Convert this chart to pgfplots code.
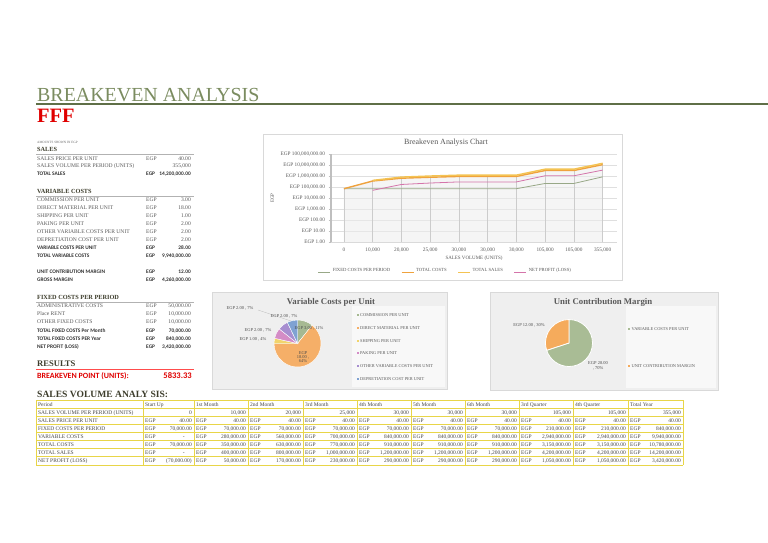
\documentclass[border=0pt]{standalone}
\usepackage{pgfplots}
\pgfplotsset{compat=1.18}
\usepackage{fontspec}
\setmainfont{Liberation Serif}
\newfontfamily\carl{Carlito}

\definecolor{titlegreen}{HTML}{7B8C60}
\definecolor{rulegreen}{HTML}{5F6F47}
\definecolor{headdark}{HTML}{3D3D2C}
\definecolor{txtgray}{HTML}{595959}
\definecolor{litegray}{HTML}{7F7F7F}
\definecolor{ffred}{HTML}{E00000}
\definecolor{tabyellow}{HTML}{E8D548}
\definecolor{cFixed}{HTML}{98A887}
\definecolor{cCost}{HTML}{EFA23D}
\definecolor{cSales}{HTML}{F4C352}
\definecolor{cProfit}{HTML}{D474AA}
\definecolor{pie1}{HTML}{A6B992}
\definecolor{pie2}{HTML}{F5AF68}
\definecolor{pie3}{HTML}{F1D46C}
\definecolor{pie4}{HTML}{D48CC6}
\definecolor{pie5}{HTML}{A78ED0}
\definecolor{pie6}{HTML}{7FA2D2}
\definecolor{qie1}{HTML}{A9BC95}
\definecolor{qie2}{HTML}{F5AB5C}
\definecolor{panel}{HTML}{EFEFEF}
\definecolor{panelhi}{HTML}{F8F8F8}

\newcommand\fs[1]{\fontsize{#1}{#1}\selectfont}

\tikzset{
  lab/.style={anchor=base west, inner sep=0pt, font=\fs{5.6}, text=txtgray},
  num/.style={anchor=base east, inner sep=0pt, font=\fs{5.6}, text=txtgray},
  blab/.style={anchor=base west, inner sep=0pt, font=\carl\bfseries\fs{5.4}, text=black!80},
  bnum/.style={anchor=base east, inner sep=0pt, font=\carl\bfseries\fs{5.4}, text=black!80},
  head/.style={anchor=base west, inner sep=0pt, font=\bfseries\fs{6.3}, text=headdark},
  tl/.style={anchor=base west, inner sep=0pt, font=\fs{5.5}, text=black!72},
  tr/.style={anchor=base east, inner sep=0pt, font=\fs{5.5}, text=black!72},
  plab/.style={inner sep=0pt, font=\fs{4.5}, text=black!70, align=center},
  leg/.style={anchor=west, inner sep=0pt, font=\fs{4.4}, text=txtgray},
}

% left summary rows
\newcommand\lrow[3]{\node[lab] at (37,#1) {#2}; \node[lab] at (146,#1) {EGP}; \node[num] at (191,#1) {#3};}
\newcommand\brow[3]{\node[blab] at (37,#1) {#2}; \node[blab] at (146,#1) {EGP}; \node[bnum] at (191,#1) {#3};}

% bottom table
\def\colB{{36,143,194,248,303,357,411,465,519,573,628,683}}
\newcommand\z{-\hspace*{7bp}}
\newcommand\trow[3]{%
  \pgfmathsetmacro\by{400+8.125*(#1-1)+6.1}
  \node[tl] at (38,\by) {#2};
  \foreach \v [count=\c] in {#3}{
    \pgfmathsetmacro\xl{\colB[\c]+2}
    \pgfmathsetmacro\xr{\colB[\c+1]-2}
    \node[tl] at (\xl,\by) {EGP};
    \node[tr] at (\xr,\by) {\v};
  }
}

\begin{document}
\begin{tikzpicture}
% pie angles, clockwise from 12 o'clock
\def\pieA{3,18,1,2,2,2}
\gdef\ptot{0}
\foreach \v in \pieA {\pgfmathsetmacro\tmpv{\ptot+\v}\xdef\ptot{\tmpv}}
\gdef\acc{90}
\foreach \v [count=\i] in \pieA {%
  \pgfmathsetmacro\tmpv{\acc-\v/\ptot*360}%
  \expandafter\xdef\csname pa\i\endcsname{\acc}%
  \expandafter\xdef\csname pb\i\endcsname{\tmpv}%
  \xdef\acc{\tmpv}}
\def\pieB{28,12}
\gdef\qtot{0}
\foreach \v in \pieB {\pgfmathsetmacro\tmpv{\qtot+\v}\xdef\qtot{\tmpv}}
\gdef\acc{90}
\foreach \v [count=\i] in \pieB {%
  \pgfmathsetmacro\tmpv{\acc-\v/\qtot*360}%
  \expandafter\xdef\csname qa\i\endcsname{\acc}%
  \expandafter\xdef\csname qb\i\endcsname{\tmpv}%
  \xdef\acc{\tmpv}}

\begin{scope}[x=1bp,y=-1bp]
\useasboundingbox (0,0) rectangle (768,543);
\fill[white] (0,0) rectangle (768,543);

% header
\node[anchor=base west, inner sep=0pt, font=\fs{20}, text=titlegreen] at (37,101.5) {BREAKEVEN ANALYSIS};
\draw[rulegreen, line width=2.2bp] (36,104) -- (768,104);
\node[anchor=base west, inner sep=0pt, font=\bfseries\fs{20.5}, text=ffred] at (37,123) {FFF};
\node[anchor=base west, inner sep=0pt, font=\fs{3.3}, text=black!60] at (37,143.5) {AMOUNTS SHOWN IN EGP};

% summary block
\node[head] at (37,151.5) {SALES};
\draw[black!30] (36,154) -- (194,154);
\lrow{161}{SALES PRICE PER UNIT}{40.00}
\node[lab] at (37,168) {SALES VOLUME PER PERIOD (UNITS)};
\node[num] at (191,168) {355,000};
\brow{176}{TOTAL SALES}{14,200,000.00}

\node[head] at (37,193.5) {VARIABLE COSTS};
\draw[black!30] (36,196) -- (194,196);
\lrow{202}{COMMISSION PER UNIT}{3.00}
\lrow{209.5}{DIRECT MATERIAL PER UNIT}{18.00}
\lrow{217.5}{SHIPPING PER UNIT}{1.00}
\lrow{225.5}{PAKING PER UNIT}{2.00}
\lrow{233.5}{OTHER VARIABLE COSTS PER UNIT}{2.00}
\lrow{241.5}{DEPRETIATION COST PER UNIT}{2.00}
\brow{249.5}{VARIABLE COSTS PER UNIT}{28.00}
\brow{257.5}{TOTAL VARIABLE COSTS}{9,940,000.00}

\brow{274}{UNIT CONTRIBUTION MARGIN}{12.00}
\brow{282}{GROSS MARGIN}{4,260,000.00}

\node[head] at (37,299.5) {FIXED COSTS PER PERIOD};
\draw[black!30] (36,302) -- (194,302);
\begin{scope}[every node/.append style={text=litegray}]
\lrow{307.5}{ADMINISTRATIVE COSTS}{50,000.00}
\lrow{315.5}{Place RENT}{10,000.00}
\lrow{323.5}{OTHER FIXED COSTS}{10,000.00}
\end{scope}
\brow{332}{TOTAL FIXED COSTS Per Month}{70,000.00}
\brow{340}{TOTAL FIXED COSTS PER Year}{840,000.00}
\brow{348}{NET PROFIT (LOSS)}{3,420,000.00}

\node[anchor=base west, inner sep=0pt, font=\bfseries\fs{8.6}, text=headdark] at (37,366.5) {RESULTS};
\draw[red!70] (36,369) -- (194,369);
\node[anchor=base west, inner sep=0pt, font=\carl\bfseries\fs{8}, text=ffred] at (37,378) {BREAKEVEN POINT (UNITS):};
\node[anchor=base east, inner sep=0pt, font=\carl\bfseries\fs{8.6}, text=ffred] at (192,378) {5833.33};

% chart panels
\draw[gray!30, fill=white] (263,134) rectangle (622,280);
\node[font=\fs{8}, text=txtgray] at (446,143) {Breakeven Analysis Chart};
\draw[gray!30, fill=panel] (212,292) rectangle (447,389);
\fill[panelhi] (352,306) rectangle (445,387);
\draw[gray!30, fill=panel] (490,292) rectangle (718,390);
\fill[panelhi] (626,306) rectangle (716,388);
\end{scope}

% line chart
\begin{axis}[
  at={(331bp,-242bp)}, anchor=south west,
  width=286bp, height=88bp, scale only axis,
  ymode=log, ymin=1, ymax=1e8,
  xmin=-0.45, xmax=9.5,
  xtick={0,...,9},
  xticklabels={0,{10,000},{20,000},{25,000},{30,000},{30,000},{30,000},{105,000},{105,000},{355,000}},
  ytick={1,10,100,1000,10000,100000,1000000,10000000,100000000},
  yticklabels={{EGP 1.00},{EGP 10.00},{EGP 100.00},{EGP 1,000.00},{EGP 10,000.00},{EGP 100,000.00},{EGP 1,000,000.00},{EGP 10,000,000.00},{EGP 100,000,000.00}},
  yminorticks=false,
  axis lines=left,
  x axis line style={-, draw=gray!30},
  y axis line style={-, draw=gray!50, line width=1.3bp},
  xtick style={draw=none},
  ytick style={draw=gray!50},
  tick align=outside, major tick length=2.5bp,
  tick label style={font=\fs{5.3}, text=txtgray},
  ymajorgrids, grid style={gray!25, line width=0.5bp},
  xlabel={SALES VOLUME (UNITS)}, ylabel={EGP},
  label style={font=\fs{5}, text=txtgray},
  xlabel style={yshift=3bp},
  legend style={at={(0.40,-0.33)}, anchor=center, legend columns=4, draw=none, fill=none,
    font=\fs{4.7}, text=txtgray, /tikz/every even column/.append style={column sep=9bp}},
  legend image code/.code={\draw[#1, line width=0.9bp] (0bp,-1.5bp) -- (12bp,-1.5bp);},
]
\addplot[draw=none, fill=gray!14, fill opacity=0.5, forget plot]
  coordinates {(0,70000) (1,400000) (2,800000) (3,1000000) (4,1200000) (5,1200000) (6,1200000) (7,4200000) (8,4200000) (9,14200000)} \closedcycle;
\addplot[ycomb, gray!40, line width=0.5bp, forget plot]
  coordinates {(0,70000) (1,400000) (2,800000) (3,1000000) (4,1200000) (5,1200000) (6,1200000) (7,4200000) (8,4200000) (9,14200000)};
\addplot[cFixed, line width=0.8bp]
  coordinates {(0,70000) (1,70000) (2,70000) (3,70000) (4,70000) (5,70000) (6,70000) (7,210000) (8,210000) (9,840000)};
\addplot[cCost, line width=1.4bp]
  coordinates {(0,70000) (1,350000) (2,630000) (3,770000) (4,910000) (5,910000) (6,910000) (7,3150000) (8,3150000) (9,10780000)};
\addplot[cSales, line width=1.4bp]
  coordinates {(1,400000) (2,800000) (3,1000000) (4,1200000) (5,1200000) (6,1200000) (7,4200000) (8,4200000) (9,14200000)};
\addplot[cProfit, line width=0.8bp]
  coordinates {(1,50000) (2,170000) (3,230000) (4,290000) (5,290000) (6,290000) (7,1050000) (8,1050000) (9,3420000)};
\legend{FIXED COSTS PER PERIOD, TOTAL COSTS, TOTAL SALES, NET PROFIT (LOSS)}
\end{axis}

% variable costs pie
\begin{axis}[at={(297.5bp,-343.5bp)}, anchor=center, width=48bp, height=48bp,
  scale only axis, hide axis, xmin=-1, xmax=1, ymin=-1, ymax=1, clip=false]
\pgfplotsinvokeforeach{1,...,6}{%
  \fill[pie#1, draw=white, line width=0.4bp] (axis cs:0,0) -- ++(\csname pa#1\endcsname:23.5bp)
    arc[start angle=\csname pa#1\endcsname, end angle=\csname pb#1\endcsname, radius=23.5bp] -- cycle;
}
\end{axis}

% contribution margin pie
\begin{axis}[at={(569bp,-343bp)}, anchor=center, width=48bp, height=48bp,
  scale only axis, hide axis, xmin=-1, xmax=1, ymin=-1, ymax=1, clip=false]
\pgfplotsinvokeforeach{1,2}{%
  \fill[qie#1, draw=white, line width=0.8bp] (axis cs:0,0) -- ++(\csname qa#1\endcsname:23.5bp)
    arc[start angle=\csname qa#1\endcsname, end angle=\csname qb#1\endcsname, radius=23.5bp] -- cycle;
}
\end{axis}

\begin{scope}[x=1bp,y=-1bp]
% pie 1 texts
\node[font=\bfseries\fs{8.8}, text=txtgray] at (331,302) {Variable Costs per Unit};
\draw[gray!60, line width=0.3bp] (258,310) -- (291,321);
\node[plab] at (240,308.5) {EGP 2.00 , 7\%};
\node[plab] at (284,316) {EGP 2.00 , 7\%};
\node[plab] at (258,330) {EGP 2.00 , 7\%};
\node[plab] at (253,339) {EGP 1.00 , 4\%};
\node[plab] at (309,328) {EGP 3.00 , 11\%};
\node[plab] at (303,357) {EGP\\[-0.5bp]18.00 ,\\[-0.5bp]64\%};
\foreach \t [count=\i] in {COMMISSION PER UNIT, DIRECT MATERIAL PER UNIT, SHIPPING PER UNIT, PAKING PER UNIT, OTHER VARIABLE COSTS PER UNIT, DEPRETIATION COST PER UNIT}{
  \pgfmathsetmacro\ly{315+12.8*(\i-1)}
  \fill[pie\i] (356.5,\ly-1) rectangle ++(2,2);
  \node[leg] at (360,\ly) {\t};
}
% pie 2 texts
\node[font=\bfseries\fs{8.8}, text=txtgray] at (603,302) {Unit Contribution Margin};
\node[plab] at (529,325) {EGP 12.00 , 30\%};
\node[plab] at (598,366) {EGP 28.00\\[0.5bp], 70\%};
\fill[qie1] (628,328) rectangle ++(2,2);
\node[leg] at (631.5,329) {VARIABLE COSTS PER UNIT};
\fill[qie2] (628,365) rectangle ++(2,2);
\node[leg] at (631.5,366) {UNIT CONTRIBUTION MARGIN};

% sales volume analysis table
\node[anchor=base west, inner sep=0pt, font=\bfseries\fs{9.6}, text=headdark] at (37,397) {SALES VOLUME ANALY SIS:};
\foreach \r in {0,...,8}{\draw[tabyellow, line width=0.8bp] (36,400+8.125*\r) -- (683,400+8.125*\r);}
\foreach \xx in {36,143,194,248,303,357,411,465,519,573,628,683}{\draw[tabyellow, line width=0.8bp] (\xx,400) -- (\xx,465);}
\node[tl] at (38,406.1) {Period};
\foreach \h [count=\c] in {Start Up,1st Month,2nd Month,3rd Month,4th Month,5th Month,6th Month,3rd Quarter,4th Quarter,Total Year}{
  \pgfmathsetmacro\xl{\colB[\c]+2}
  \node[tl] at (\xl,406.1) {\h};
}
\node[tl] at (38,414.2) {SALES VOLUME PER PERIOD (UNITS)};
\foreach \v [count=\c] in {0,{10,000},{20,000},{25,000},{30,000},{30,000},{30,000},{105,000},{105,000},{355,000}}{
  \pgfmathsetmacro\xr{\colB[\c+1]-2}
  \node[tr] at (\xr,414.2) {\v};
}
\trow{3}{SALES PRICE PER UNIT}{40.00,40.00,40.00,40.00,40.00,40.00,40.00,40.00,40.00,40.00}
\trow{4}{FIXED COSTS PER PERIOD}{{70,000.00},{70,000.00},{70,000.00},{70,000.00},{70,000.00},{70,000.00},{70,000.00},{210,000.00},{210,000.00},{840,000.00}}
\trow{5}{VARIABLE COSTS}{\z,{280,000.00},{560,000.00},{700,000.00},{840,000.00},{840,000.00},{840,000.00},{2,940,000.00},{2,940,000.00},{9,940,000.00}}
\trow{6}{TOTAL COSTS}{{70,000.00},{350,000.00},{630,000.00},{770,000.00},{910,000.00},{910,000.00},{910,000.00},{3,150,000.00},{3,150,000.00},{10,780,000.00}}
\trow{7}{TOTAL SALES}{\z,{400,000.00},{800,000.00},{1,000,000.00},{1,200,000.00},{1,200,000.00},{1,200,000.00},{4,200,000.00},{4,200,000.00},{14,200,000.00}}
\trow{8}{NET PROFIT (LOSS)}{{(70,000.00)},{50,000.00},{170,000.00},{230,000.00},{290,000.00},{290,000.00},{290,000.00},{1,050,000.00},{1,050,000.00},{3,420,000.00}}
\end{scope}
\end{tikzpicture}
\end{document}
